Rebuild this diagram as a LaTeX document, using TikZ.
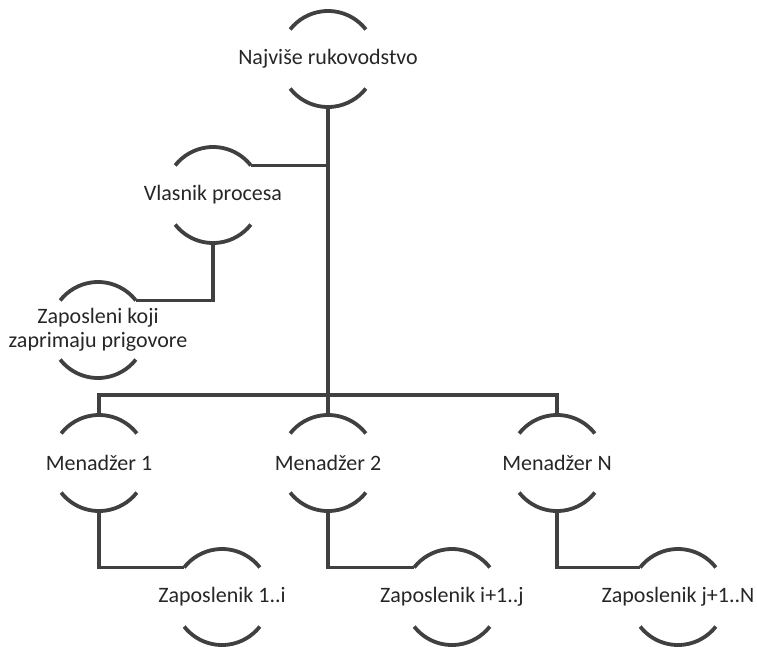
\documentclass[tikz,border=0pt]{standalone}
\usepackage{fontspec}
\setmainfont{Carlito}
\usepackage{xcolor}
\usepackage{tikz}
\definecolor{wirecol}{HTML}{404040}
\definecolor{labelcol}{HTML}{262626}

\begin{document}
\begin{tikzpicture}[x=1pt,y=1pt,
    unit/.style={shape=circle,minimum size=96pt,inner sep=0pt,outer sep=0pt},
    every label/.style={align=center,text=labelcol,font=\fontsize{22}{24}\selectfont},
    wire/.style={draw=wirecol,line width=3.8pt}]
  \useasboundingbox (0,0) rectangle (757,-646);
  \node[unit,label=center:{Najviše rukovodstvo}] (top) at (328,-59) {};
  \node[unit,label=center:{Vlasnik procesa}] (vlasnik) at (213,-195) {};
  \node[unit,label=center:{Zaposleni koji\\zaprimaju prigovore}] (zap) at (98,-330) {};
  \node[unit,label=center:{Menadžer 1}] (m1) at (99,-463) {};
  \node[unit,label=center:{Menadžer 2}] (m2) at (328,-463) {};
  \node[unit,label=center:{Menadžer N}] (mN) at (557,-463) {};
  \node[unit,label=center:{Zaposlenik 1..i}] (e1) at (222,-597) {};
  \node[unit,label=center:{Zaposlenik i+1..j}] (e2) at (452,-597) {};
  \node[unit,label=center:{Zaposlenik j+1..N}] (e3) at (678,-597) {};
  \coordinate (bar) at (328,-395);

  \foreach \n in {top,vlasnik,zap,m1,m2,mN,e1,e2,e3}
    \draw[wire] (\n.38) arc[start angle=38,end angle=142,radius=48pt]
                (\n.218) arc[start angle=218,end angle=322,radius=48pt];

  \draw[wire] (top.south) -- (bar);
  \draw[wire] (vlasnik.38) -- (vlasnik.38 -| top.south);
  \draw[wire] (vlasnik.south) |- (zap.38);
  \draw[wire] (m1.north) |- (bar) -| (mN.north);
  \draw[wire] (bar) -- (m2.north);
  \draw[wire] (m1.south) |- (e1.142);
  \draw[wire] (m2.south) |- (e2.142);
  \draw[wire] (mN.south) |- (e3.142);
\end{tikzpicture}
\end{document}
